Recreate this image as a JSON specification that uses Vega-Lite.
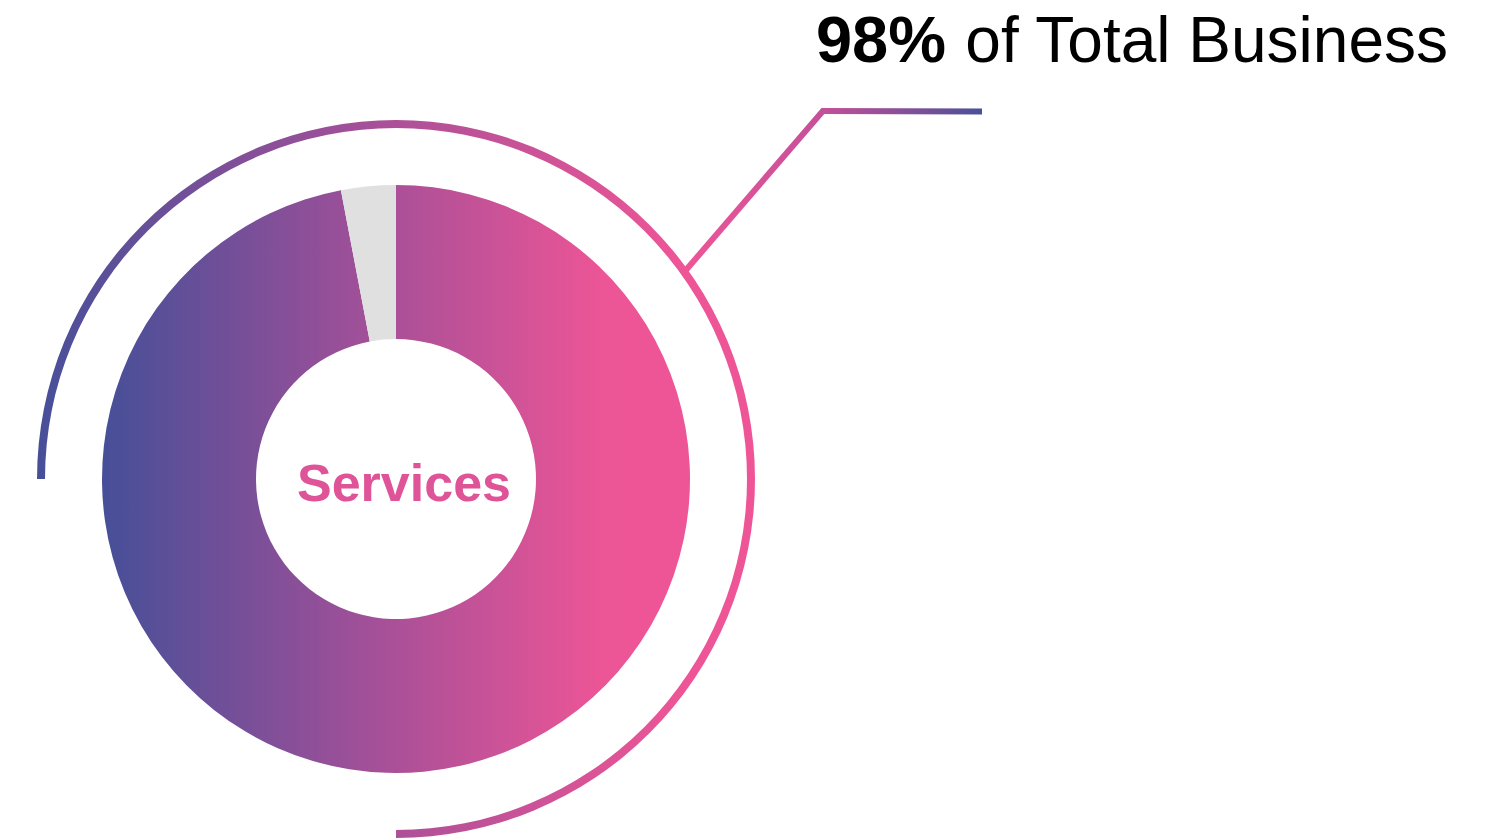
{
  "$schema": "https://vega.github.io/schema/vega-lite/v6.json",
  "width": 792,
  "height": 720,
  "autosize": {"type": "none"},
  "padding": {"left": 0, "right": 711, "top": 119, "bottom": 0},
  "background": "white",
  "config": {"view": {"stroke": null}},
  "data": {"values": [
    {"segment": "Services", "share": 97},
    {"segment": "Other", "share": 3}
  ]},
  "layer": [
    {
      "mark": {"type": "arc", "innerRadius": 140, "outerRadius": 294},
      "encoding": {
        "theta": {"field": "share", "type": "quantitative", "stack": true},
        "order": {"field": "segment", "sort": "descending"},
        "fill": {
          "condition": {"test": "datum.segment === 'Other'", "value": "#e0e0e0"},
          "value": {
            "gradient": "linear", "x1": 0, "y1": 0, "x2": 1, "y2": 0,
            "stops": [
              {"offset": 0, "color": "#464f98"},
              {"offset": 0.5, "color": "#ab5098"},
              {"offset": 0.85, "color": "#ec5596"},
              {"offset": 1, "color": "#ef5596"}
            ]
          }
        }
      }
    },
    {
      "data": {"values": [{"ring": "outline"}]},
      "mark": {
        "type": "arc", "innerRadius": 351, "outerRadius": 359,
        "theta": -1.5708, "theta2": 3.14159,
        "fill": {
          "gradient": "linear", "x1": 0, "y1": 0, "x2": 1, "y2": 0,
          "stops": [
            {"offset": 0, "color": "#474f99"},
            {"offset": 0.5, "color": "#ad5098"},
            {"offset": 0.9, "color": "#ee5596"},
            {"offset": 1, "color": "#ef5596"}
          ]
        }
      },
      "encoding": {}
    },
    {
      "data": {"values": [{"leader": "diagonal"}]},
      "mark": {
        "type": "rule",
        "strokeWidth": 6, "strokeCap": "square",
        "stroke": {
          "gradient": "linear", "x1": 0, "y1": 0, "x2": 1, "y2": 0,
          "stops": [
            {"offset": 0, "color": "#ee5596"},
            {"offset": 1, "color": "#c4509a"}
          ]
        }
      },
      "encoding": {
        "x": {"value": 686}, "y": {"value": 151},
        "x2": {"value": 822}, "y2": {"value": -7}
      }
    },
    {
      "data": {"values": [{"leader": "horizontal"}]},
      "mark": {
        "type": "rule",
        "strokeWidth": 6,
        "stroke": {
          "gradient": "linear", "x1": 0, "y1": 0, "x2": 1, "y2": 0,
          "stops": [
            {"offset": 0, "color": "#c4509a"},
            {"offset": 1, "color": "#4a5098"}
          ]
        }
      },
      "encoding": {
        "x": {"value": 822}, "y": {"value": -8},
        "x2": {"value": 982}, "y2": {"value": -7.6}
      }
    },
    {
      "data": {"values": [{"label": "Services"}]},
      "mark": {
        "type": "text", "align": "center", "baseline": "alphabetic",
        "font": "Liberation Sans", "fontWeight": "bold", "fontSize": 52, "fill": "#df5498"
      },
      "encoding": {"text": {"field": "label"}, "x": {"value": 404}, "y": {"value": 382}}
    },
    {
      "data": {"values": [{"label": "98%"}]},
      "mark": {
        "type": "text", "align": "right", "baseline": "alphabetic",
        "font": "Liberation Sans", "fontWeight": "bold", "fontSize": 65, "fill": "#000000"
      },
      "encoding": {"text": {"field": "label"}, "x": {"value": 946}, "y": {"value": -57}}
    },
    {
      "data": {"values": [{"label": "of Total Business"}]},
      "mark": {
        "type": "text", "align": "right", "baseline": "alphabetic",
        "font": "Liberation Sans", "fontWeight": "normal", "fontSize": 64, "fill": "#000000"
      },
      "encoding": {"text": {"field": "label"}, "x": {"value": 1448}, "y": {"value": -57}}
    }
  ]
}
